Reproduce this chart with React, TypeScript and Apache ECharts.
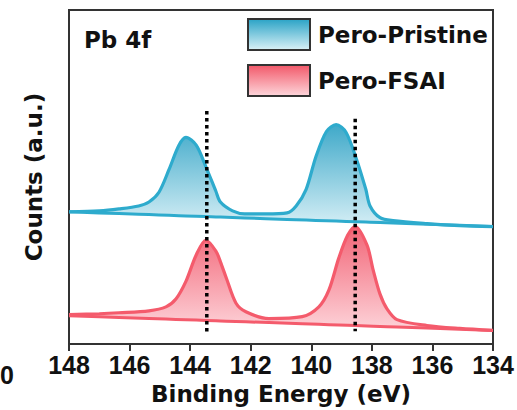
import React, { useEffect, useRef } from "react";
import * as echarts from "echarts";

// Binding energy (eV) sample points and intensities (a.u.)
const pristineEnergy = [148, 147, 146.35, 145.7, 145.36, 145.03, 144.7, 144.37, 144.14, 143.8, 143.48, 143.15, 143.0, 142.6, 142.2, 141.5, 140.8, 140.5, 140.17, 139.85, 139.5, 139.18, 138.85, 138.5, 138.2, 138.06, 137.73, 137.3, 136.18, 135.1, 134];
const pristineCounts = [135, 136, 138, 141, 145, 155, 178, 203, 211, 203, 181, 156, 145, 136, 133, 133, 134, 141, 158, 191, 217, 224, 216, 188, 158, 141, 129, 126, 123, 121, 120];
const pristineBackground = [135, 120]; // background line at 148 eV and 134 eV

const fsaiEnergy = [148, 147, 146.35, 145.36, 144.8, 144.47, 144.14, 143.8, 143.48, 143.15, 143.0, 142.8, 142.49, 142.16, 141.4, 140.3, 139.75, 139.42, 139.09, 138.8, 138.55, 138.16, 137.96, 137.73, 137.5, 137.17, 136.18, 135.1, 134];
const fsaiCounts = [30, 31, 32, 34, 38, 46, 64, 91, 106, 95, 84, 67, 42, 33, 26, 28, 38, 55, 88, 111, 120, 101, 76, 51, 36, 25, 19, 16, 14];
const fsaiBackground = [29, 14];

const markerEnergy = [143.45, 138.55];
const markerTop = [238, 230];
const markerBottom = [11, 13];

const xTicks = { min: 134, max: 148, interval: 2 };
const seriesNames = ["Pero-Pristine", "Pero-FSAI"];

const BOLD = "'DejaVu Sans', sans-serif";
const TICK = "'Liberation Sans', Arial, sans-serif";

function bg(e: number, b: number[]) {
  return b[0] + ((b[1] - b[0]) * (xTicks.max - e)) / (xTicks.max - xTicks.min);
}

function grad(top: string, bottom: string) {
  return new echarts.graphic.LinearGradient(0, 0, 0, 1, [
    { offset: 0, color: top },
    { offset: 1, color: bottom },
  ]);
}

export default function App() {
  const ref = useRef<HTMLDivElement>(null);
  useEffect(() => {
    if (!ref.current) return;
    const chart = echarts.init(ref.current, null, { renderer: "svg" });
    const blue = "#2eabcd";
    const red = "#f45b6c";
    // rows are [intensity, energy] so that the stack is applied to the intensity
    const pBase = pristineEnergy.map((e) => [bg(e, pristineBackground), e]);
    const pDiff = pristineEnergy.map((e, i) => [pristineCounts[i] - bg(e, pristineBackground), e]);
    const fBase = fsaiEnergy.map((e) => [bg(e, fsaiBackground), e]);
    const fDiff = fsaiEnergy.map((e, i) => [fsaiCounts[i] - bg(e, fsaiBackground), e]);
    const enc = { x: 1, y: 0 };

    const markerSeries = markerEnergy.map((e, i) => ({
      type: "line",
      name: "marker" + i,
      data: [
        [e, markerTop[i]],
        [e, markerBottom[i]],
      ],
      showSymbol: false,
      lineStyle: { color: "#000", width: 3.5, type: [3.5, 3.5] },
      z: 10,
      silent: true,
    }));

    chart.setOption({
      animation: false,
      backgroundColor: "#fff",
      grid: {
        left: 69,
        right: 24,
        top: 10,
        bottom: 59,
        show: true,
        borderColor: "#333",
        borderWidth: 2,
        backgroundColor: "transparent",
      },
      title: {
        text: "Pb 4f",
        left: 79,
        top: 23,
        textStyle: { fontFamily: BOLD, fontWeight: "bold", fontSize: 23, color: "#111" },
      },
      legend: {
        orient: "vertical",
        left: 247,
        top: 18,
        padding: 0,
        itemWidth: 62,
        itemHeight: 31,
        itemGap: 13,
        selectedMode: false,
        textStyle: { fontFamily: BOLD, fontWeight: "bold", fontSize: 23, color: "#111", padding: [0, 0, 0, 3] },
        data: [
          {
            name: seriesNames[0],
            icon: "rect",
            itemStyle: { color: grad("#2aa3c6", "#daf1f7"), borderColor: "#333", borderWidth: 2 },
          },
          {
            name: seriesNames[1],
            icon: "rect",
            itemStyle: { color: grad("#f25869", "#fdd6db"), borderColor: "#333", borderWidth: 2 },
          },
        ],
      },
      xAxis: {
        type: "value",
        min: xTicks.min,
        max: xTicks.max,
        interval: xTicks.interval,
        inverse: true,
        name: "Binding Energy (eV)",
        nameLocation: "middle",
        nameGap: 31,
        nameTextStyle: { fontFamily: BOLD, fontWeight: "bold", fontSize: 23, color: "#111" },
        axisLine: { show: true, lineStyle: { color: "#333", width: 2 } },
        axisTick: { show: true, inside: false, length: 7, lineStyle: { color: "#333", width: 2 } },
        axisLabel: { fontFamily: TICK, fontWeight: "bold", fontSize: 25, color: "#111", margin: 8 },
        splitLine: { show: false },
      },
      yAxis: {
        type: "value",
        min: 0,
        max: 341,
        name: "Counts (a.u.)",
        nameLocation: "middle",
        nameGap: 24,
        nameTextStyle: { fontFamily: BOLD, fontWeight: "bold", fontSize: 23, color: "#111" },
        axisLine: { show: true, lineStyle: { color: "#333", width: 2 } },
        axisTick: { show: false },
        axisLabel: { show: false },
        splitLine: { show: false },
      },
      graphic: [
        {
          type: "text",
          left: 0,
          top: 362,
          style: { text: "0", font: `bold 25px ${TICK}`, fill: "#111" },
        },
      ],
      series: [
        {
          type: "line",
          name: "Pristine background",
          stack: "pristine",
          stackStrategy: "all",
          encode: enc,
          data: pBase,
          showSymbol: false,
          lineStyle: { color: blue, width: 3 },
          z: 4,
        },
        {
          type: "line",
          name: seriesNames[0],
          stack: "pristine",
          stackStrategy: "all",
          encode: enc,
          data: pDiff,
          showSymbol: false,
          smooth: 0.3,
          lineStyle: { color: blue, width: 3.2 },
          itemStyle: { color: blue },
          areaStyle: { color: grad("#3fa9c9", "#d6eff6"), opacity: 1 },
          z: 3,
        },
        {
          type: "line",
          name: "FSAI background",
          stack: "fsai",
          stackStrategy: "all",
          encode: enc,
          data: fBase,
          showSymbol: false,
          lineStyle: { color: red, width: 3 },
          z: 4,
        },
        {
          type: "line",
          name: seriesNames[1],
          stack: "fsai",
          stackStrategy: "all",
          encode: enc,
          data: fDiff,
          showSymbol: false,
          smooth: 0.3,
          lineStyle: { color: red, width: 3.2 },
          itemStyle: { color: red },
          areaStyle: { color: grad("#f26476", "#fdd3d9"), opacity: 1 },
          z: 3,
        },
        ...markerSeries,
      ],
    });
    return () => chart.dispose();
  }, []);
  return <div ref={ref} style={{ width: 517, height: 410, position: "absolute", left: 0, top: 0 }} />;
}
